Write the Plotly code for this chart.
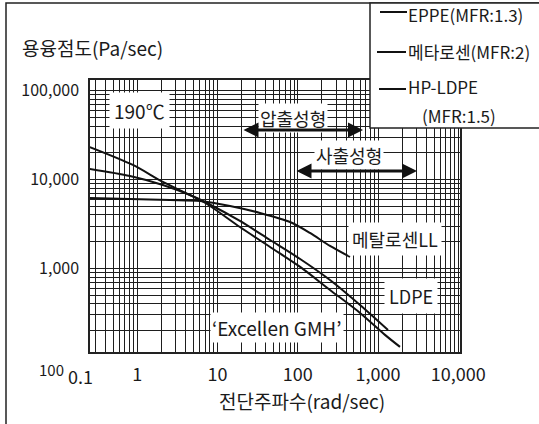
import plotly.graph_objects as go

# ---- data ----
x_eppe = [0.256, 0.881, 2.08, 4.53, 7.38, 19.0, 45.1, 107, 252, 597, 1222, 1880]
y_eppe = [23200, 14600, 9400, 6700, 5310, 2925, 1742, 1040, 573, 316, 179, 131]

x_metallocene = [0.256, 0.809, 2.55, 6.04, 14.3, 33.8, 80.0, 142, 252, 448]
y_metallocene = [6210, 6040, 5890, 5740, 5050, 4210, 3330, 2510, 1790, 1346]

x_hpldpe = [0.256, 0.809, 2.08, 4.53, 7.38, 19.0, 45.1, 107, 252, 597, 1333]
y_hpldpe = [13150, 10960, 8690, 6700, 5450, 3420, 2090, 1277, 741, 388, 203]

x_tickvals = [1, 10, 100, 1000, 10000]
x_ticktext = ["1", "10", "100", "1,000", "10,000"]
y_tickvals = [1000, 10000, 100000]
y_ticktext = ["1,000", "10,000", "100,000"]

FONT = "Noto Sans CJK KR"
INK = "#1a1a1a"
GRID = "#1e1e1e"

# plot area in pixels
W, H = 539, 424
L, R, T, B = 90, 460, 80, 352


def px(x):
    return (x - L) / (R - L)


def py(y):
    return (B - y) / (B - T)


minor_x = [m * 10 ** e for e in range(-1, 4) for m in range(2, 10)]
minor_y = [m * 10 ** e for e in range(2, 5) for m in range(2, 10)]

fig = go.Figure()
for xs, ys, nm in [(x_eppe, y_eppe, "EPPE(MFR:1.3)"),
                   (x_metallocene, y_metallocene, "메타로센(MFR:2)"),
                   (x_hpldpe, y_hpldpe, "HP-LDPE (MFR:1.5)")]:
    fig.add_trace(go.Scatter(x=xs, y=ys, mode="lines", name=nm,
                             line=dict(color="#111", width=2, shape="spline", smoothing=0.8),
                             showlegend=False))

fig.update_xaxes(type="log", range=[-0.59, 4.022], tickmode="array",
                 tickvals=x_tickvals, ticktext=x_ticktext, ticks="",
                 showgrid=True, gridcolor=GRID, gridwidth=1,
                 minor=dict(tickmode="array", tickvals=minor_x, showgrid=True,
                            gridcolor=GRID, gridwidth=1, ticks=""),
                 showline=True, linecolor="#222", linewidth=1.5, mirror=True,
                 tickfont=dict(family=FONT, size=18, color=INK),
                 ticklabelstandoff=6, zeroline=False, automargin=False)
fig.update_yaxes(type="log", range=[2.06, 5.12], tickmode="array",
                 tickvals=y_tickvals, ticktext=y_ticktext, ticks="",
                 showgrid=True, gridcolor=GRID, gridwidth=1,
                 minor=dict(tickmode="array", tickvals=minor_y, showgrid=True,
                            gridcolor=GRID, gridwidth=1, ticks=""),
                 showline=True, linecolor="#222", linewidth=1.5, mirror=True,
                 tickfont=dict(family=FONT, size=16, color=INK),
                 ticklabelstandoff=6, zeroline=False, automargin=False)

ann = []


def text(x, y, s, size=18, anchor="center", bg=None, pad=2):
    d = dict(x=px(x), y=py(y), xref="paper", yref="paper", text=s, showarrow=False,
             xanchor=anchor, yanchor="middle",
             font=dict(family=FONT, size=size, color=INK))
    if bg:
        d.update(bgcolor=bg, borderpad=pad)
    ann.append(d)


# axis titles and corner labels
text(20, 48, "용융점도(Pa/sec)", size=19, anchor="left")
text(302, 400, "전단주파수(rad/sec)", size=19)
text(80, 376, "0.1", size=18)
text(51, 369, "100", size=15)

# in-plot labels
text(139, 110, "190℃", size=19, bg="white", pad=4)
text(293, 118, "압출성형", size=18, bg="white", pad=1)
text(349, 155, "사출성형", size=18, bg="white", pad=1)
text(395, 239, "메탈로센LL", size=18, bg="white", pad=3)
text(411, 296, "LDPE", size=18, bg="white", pad=4)
text(277, 327, "‘Excellen GMH’", size=19, bg="white", pad=1)

# double arrows
for (x0, x1, y) in [(242, 363, 130), (295, 417, 171)]:
    ann.append(dict(x=px(x1), y=py(y), xref="paper", yref="paper",
                    ax=x0 - x1, ay=0, axref="pixel", ayref="pixel", text="",
                    showarrow=True, arrowside="end+start", arrowhead=2,
                    arrowsize=1, arrowwidth=3, arrowcolor="#111"))

shapes = []
# outer frame
shapes.append(dict(type="rect", xref="paper", yref="paper",
                   x0=px(6), x1=px(560), y0=py(440), y1=py(3),
                   line=dict(color="#222", width=1.5), fillcolor="rgba(0,0,0,0)", layer="above"))
# legend box
shapes.append(dict(type="rect", xref="paper", yref="paper",
                   x0=px(370), x1=px(560), y0=py(128), y1=py(3),
                   line=dict(color="#222", width=1.5), fillcolor="white", layer="above"))
# legend line samples
for (x0, x1, y) in [(380, 407, 12), (377, 406, 52), (379, 406, 89)]:
    shapes.append(dict(type="line", xref="paper", yref="paper",
                       x0=px(x0), x1=px(x1), y0=py(y), y1=py(y),
                       line=dict(color="#111", width=2), layer="above"))

text(406, 14, "EPPE(MFR:1.3)", size=17, anchor="left")
text(406, 52, "메타로센(MFR:2)", size=17, anchor="left")
text(406, 86, "HP-LDPE", size=17, anchor="left")
text(420, 115, "(MFR:1.5)", size=17, anchor="left")

fig.update_layout(width=W, height=H,
                  margin=dict(l=L, r=W - R, t=T, b=H - B, pad=0, autoexpand=False),
                  paper_bgcolor="white", plot_bgcolor="white",
                  annotations=ann, shapes=shapes, showlegend=False,
                  font=dict(family=FONT, color=INK))

fig.write_html("out.html", config={"displayModeBar": False},
               post_script="document.body.style.margin='0px';document.body.style.overflow='hidden';")
